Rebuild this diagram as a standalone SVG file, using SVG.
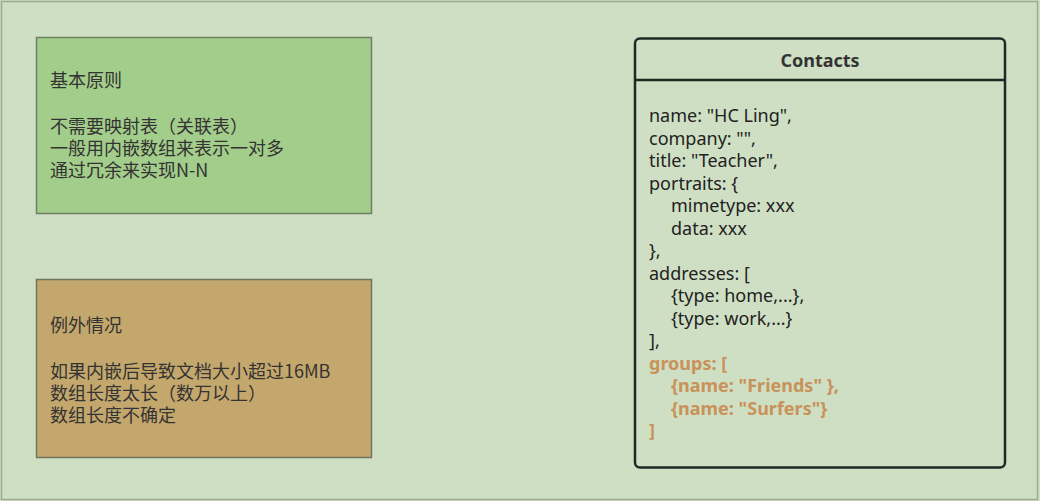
<svg xmlns="http://www.w3.org/2000/svg" width="1040" height="501" viewBox="0 0 1040 501">
<style>
.cjk{font-family:"Noto Sans CJK SC","Noto Sans",sans-serif;font-size:18px;fill:#333}
.code{font-family:"Noto Sans","Open Sans",sans-serif;font-size:18px;fill:#222}
.hl{fill:#C9925A;font-weight:bold}
</style>
<rect x="0" y="0" width="1040" height="501" fill="#CFDFC3"/>
<rect x="1.5" y="1.5" width="1036" height="498" fill="none" stroke="#9BAA92" stroke-width="1.5"/>
<g id="principles">
<rect x="36.5" y="37.5" width="335" height="176" fill="#A3CD8A" stroke="#6E8166" stroke-width="1.5"/>
<text class="cjk" x="50" y="87">基本原则</text>
<text class="cjk" x="50" y="133">不需要映射表（关联表）</text>
<text class="cjk" x="50" y="155">一般用内嵌数组来表示一对多</text>
<text class="cjk" x="50" y="177">通过冗余来实现N-N</text>
</g>
<g id="exceptions">
<rect x="36.5" y="279.5" width="335" height="178" fill="#C4A76C" stroke="#6E7560" stroke-width="1.5"/>
<text class="cjk" x="50" y="332">例外情况</text>
<text class="cjk" x="50" y="378">如果内嵌后导致文档大小超过16MB</text>
<text class="cjk" x="50" y="400">数组长度太长（数万以上）</text>
<text class="cjk" x="50" y="422">数组长度不确定</text>
</g>
<g id="contacts">
<rect x="635" y="38.5" width="370" height="429" rx="5" fill="#CFDFC3" stroke="#1E2A24" stroke-width="2.5"/>
<line x1="635" y1="80" x2="1005" y2="80" stroke="#1E2A24" stroke-width="2.5"/>
<text x="820" y="67" text-anchor="middle" font-family="Noto Sans,Open Sans,sans-serif" font-size="18px" font-weight="bold" fill="#333">Contacts</text>
<text class="code" x="649" y="122">name: "HC Ling",</text>
<text class="code" x="649" y="144.5">company: "",</text>
<text class="code" x="649" y="167">title: "Teacher",</text>
<text class="code" x="649" y="189.5">portraits: {</text>
<text class="code" x="671" y="212">mimetype: xxx</text>
<text class="code" x="671" y="234.5">data: xxx</text>
<text class="code" x="649" y="257">},</text>
<text class="code" x="649" y="279.5">addresses: [</text>
<text class="code" x="671" y="302">{type: home,...},</text>
<text class="code" x="671" y="324.5">{type: work,...}</text>
<text class="code" x="649" y="347">],</text>
<text class="code hl" x="649" y="369.5">groups: [</text>
<text class="code hl" x="671" y="392">{name: "Friends" },</text>
<text class="code hl" x="671" y="414.5">{name: "Surfers"}</text>
<text class="code hl" x="649" y="437">]</text>
</g>
<g id="connectors"/>
</svg>
